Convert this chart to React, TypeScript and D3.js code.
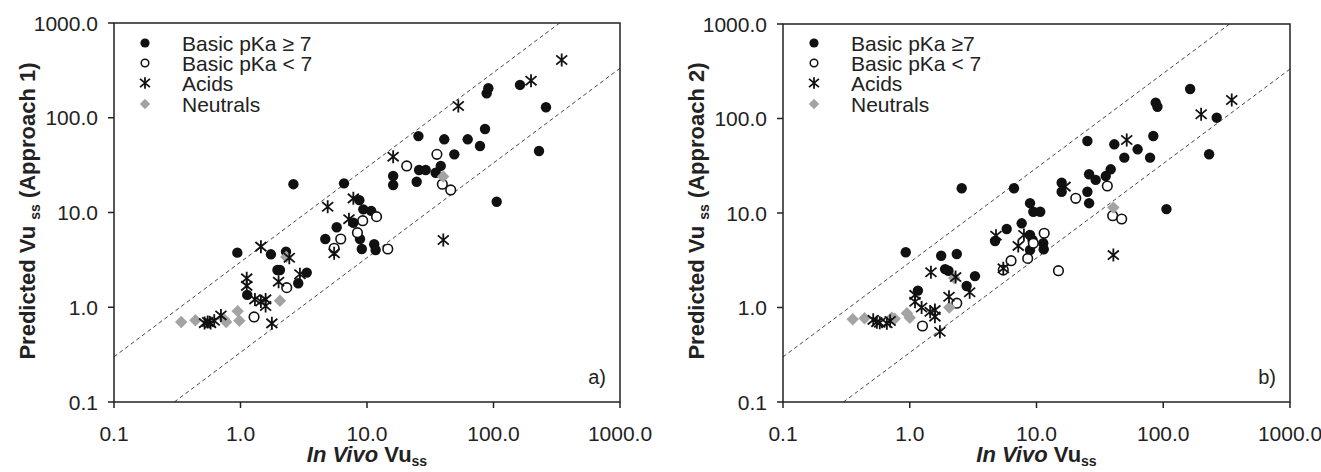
import React from "react";
import * as d3 from "d3";

const tickValues = [0.1, 1, 10, 100, 1000];
const tickLabels = ["0.1", "1.0", "10.0", "100.0", "1000.0"];

const basicHighA: [number, number][] = [
  [2.62, 19.9], [6.58, 20.3], [25.5, 64], [40.8, 59.2], [62.5, 59.2], [78.2, 50.3], [85.7, 76.1],
  [88.3, 181], [91, 205], [162, 222], [260, 129], [229, 44.6], [106, 13], [49, 41.1], [38.3, 31],
  [34.9, 26.3], [25.8, 28.1], [29.1, 28.1], [24.7, 21.1], [16.1, 24.3], [16.1, 19.5], [8.7, 13.5],
  [9.35, 10.8], [10.8, 10.4], [7.8, 7.8], [5.76, 6.98], [4.68, 5.25], [8.8, 5.25], [9.1, 4.12],
  [11.4, 4.62], [11.7, 4.02], [0.944, 3.77], [1.74, 3.62], [2.29, 3.86], [1.96, 2.47], [2.05, 2.47],
  [3.34, 2.32], [2.86, 1.79], [1.13, 1.35],
];
const basicLowA: [number, number][] = [
  [35.7, 41.1], [20.6, 31], [39.4, 19.9], [45.9, 17.3], [11.9, 9.04], [9.25, 8.2], [8.4, 6.12],
  [6.2, 5.25], [5.5, 4.19], [14.6, 4.12], [2.32, 1.61], [1.28, 0.79],
];
const acidsA: [number, number][] = [
  [346, 407], [198, 246], [52.7, 133], [16.1, 38.8], [4.89, 11.5], [7.8, 14.1], [7.2, 8.5], [5.5, 3.71],
  [40.1, 5.13], [1.45, 4.36], [2.43, 3.33], [2.95, 2.23], [2.0, 1.86], [1.12, 2.02], [1.12, 1.68],
  [1.3, 1.21], [1.45, 1.15], [1.58, 1.21], [1.58, 1.03], [1.77, 0.676], [0.52, 0.68], [0.55, 0.7],
  [0.58, 0.68], [0.62, 0.72], [0.7, 0.82],
];
const neutralsA: [number, number][] = [
  [0.34, 0.7], [0.44, 0.73], [0.74, 0.75], [0.77, 0.7], [0.95, 0.91], [0.98, 0.72], [2.05, 1.17],
  [2.3, 3.4], [40, 24],
];

const basicHighB: [number, number][] = [
  [163, 205], [87.2, 147], [90, 133], [264, 102], [230, 41.8], [106, 11], [83.5, 65.3], [78.7, 38.5],
  [62.8, 47.2], [49.3, 38.5], [41.1, 53.3], [25.2, 57.8], [38.5, 29], [35.2, 24.6], [26, 25.7],
  [29.3, 22.4], [25.2, 16.8], [26, 12.7], [15.8, 20.9], [15.8, 16.8], [8.89, 12.7], [9.44, 10.3],
  [10.7, 10.3], [7.64, 7.78], [5.82, 6.77], [4.71, 5.06], [8.89, 5.85], [9.3, 5.18], [8.89, 4.06],
  [11.3, 4.78], [11.4, 4.13], [2.57, 18.3], [6.64, 18.3], [0.93, 3.84], [1.77, 3.53], [2.35, 3.68],
  [1.9, 2.55], [2.02, 2.45], [3.27, 2.15], [2.81, 1.69], [1.16, 1.51],
];
const basicLowB: [number, number][] = [
  [36.2, 19.3], [20.4, 14.3], [39.9, 9.36], [47, 8.64], [11.5, 6.1], [9.44, 4.78], [8.52, 3.31],
  [6.3, 3.13], [5.47, 2.49], [14.9, 2.45], [2.35, 1.11], [1.26, 0.637],
];
const acidsB: [number, number][] = [
  [347, 157], [199, 111], [51.5, 59.2], [16.8, 19], [40.4, 3.59], [4.79, 5.75], [7.18, 4.48],
  [7.96, 5.85], [5.47, 2.6], [1.47, 2.36], [2.3, 2.1], [2.97, 1.45], [2.04, 1.3], [1.1, 1.36],
  [1.1, 1.15], [1.24, 1.0], [1.45, 0.9], [1.58, 0.94], [1.58, 0.8], [1.73, 0.554], [0.515, 0.74],
  [0.55, 0.7], [0.58, 0.69], [0.66, 0.68], [0.7, 0.72],
];
const neutralsB: [number, number][] = [
  [0.355, 0.75], [0.44, 0.77], [0.72, 0.78], [0.76, 0.76], [0.95, 0.87], [1.0, 0.78], [2.05, 1.0],
  [2.24, 2.05], [40.4, 11.4],
];

const legendA = ["Basic pKa \u2265 7", "Basic pKa < 7", "Acids", "Neutrals"];
const legendB = ["Basic pKa \u22657", "Basic pKa < 7", "Acids", "Neutrals"];

const FONT = "'Liberation Sans', Arial, Helvetica, sans-serif";
const GREY = "#a3a3a3";

function Asterisk({ x, y, s = 1 }: { x: number; y: number; s?: number }) {
  const d = `M0,${-6.5 * s}L0,${6.5 * s}M${-5.5 * s},${-4.6 * s}L${5.5 * s},${4.6 * s}M${-5.5 * s},${4.6 * s}L${5.5 * s},${-4.6 * s}`;
  return <path d={d} transform={`translate(${x},${y})`} stroke="#111" strokeWidth={1.8} fill="none" />;
}
function Diamond({ x, y, r = 6.2 }: { x: number; y: number; r?: number }) {
  return <path d={`M0,${-r}L${r},0L0,${r}L${-r},0Z`} transform={`translate(${x},${y})`} fill={GREY} />;
}

type PanelProps = {
  x0: number; x1: number; y0: number; y1: number;
  high: [number, number][]; low: [number, number][]; acids: [number, number][]; neutrals: [number, number][];
  legend: string[]; yTitle: string; tag: string;
};

function Panel({ x0, x1, y0, y1, high, low, acids, neutrals, legend, yTitle, tag }: PanelProps) {
  const xs = d3.scaleLog().domain([0.1, 1000]).range([x0, x1]);
  const ys = d3.scaleLog().domain([0.1, 1000]).range([y1, y0]);
  const upper = d3.line<number>().x((v) => xs(v)).y((v) => ys(3 * v));
  const lower = d3.line<number>().x((v) => xs(v)).y((v) => ys(v / 3));
  const upperPts = [0.1, 1000 / 3];
  const lowerPts = [0.3, 1000];
  const legY = [43, 63, 83, 104];
  const lmx = x0 + 31;
  const ltx = x0 + 68;
  return (
    <g fontFamily={FONT}>
      <path d={upper(upperPts) || ""} stroke="#333" strokeWidth={0.9} strokeDasharray="4,3" fill="none" />
      <path d={lower(lowerPts) || ""} stroke="#333" strokeWidth={0.9} strokeDasharray="4,3" fill="none" />
      {high.map(([a, b], i) => (
        <circle key={"h" + i} cx={xs(a)} cy={ys(b)} r={5.2} fill="#111" />
      ))}
      {low.map(([a, b], i) => (
        <circle key={"l" + i} cx={xs(a)} cy={ys(b)} r={4.8} fill="#fff" stroke="#111" strokeWidth={1.6} />
      ))}
      {neutrals.map(([a, b], i) => (
        <Diamond key={"n" + i} x={xs(a)} y={ys(b)} />
      ))}
      {acids.map(([a, b], i) => (
        <Asterisk key={"a" + i} x={xs(a)} y={ys(b)} />
      ))}
      <rect x={x0} y={y0} width={x1 - x0} height={y1 - y0} fill="none" stroke="#222" strokeWidth={1.5} />
      {tickValues.map((t, i) => (
        <g key={"xt" + i}>
          <line x1={xs(t)} x2={xs(t)} y1={y1} y2={y1 + 6} stroke="#222" strokeWidth={1.5} />
          <text x={xs(t)} y={y1 + 39} fontSize={21} textAnchor="middle" fill="#222">{tickLabels[i]}</text>
          <line x1={x0 - 6} x2={x0} y1={ys(t)} y2={ys(t)} stroke="#222" strokeWidth={1.5} />
          <text x={x0 - 16} y={ys(t) + 7.5} fontSize={21} textAnchor="end" fill="#222">{tickLabels[i]}</text>
        </g>
      ))}
      <text x={(x0 + x1) / 2} y={462} textAnchor="middle" fontSize={22} fontWeight="bold" fill="#222">
        <tspan fontStyle="italic">In Vivo</tspan>
        <tspan> Vu</tspan>
        <tspan fontSize={14} dy={4}>ss</tspan>
      </text>
      <text transform={`translate(${x0 - 79},211) rotate(-90)`} textAnchor="middle" fontSize={22} fontWeight="bold" fill="#222">
        <tspan>Predicted Vu </tspan>
        <tspan fontSize={14} dy={5}>ss</tspan>
        <tspan dy={-5}>{" " + yTitle}</tspan>
      </text>
      <text x={x1 - 14} y={384} textAnchor="end" fontSize={20} fill="#222">{tag}</text>
      <circle cx={lmx} cy={legY[0]} r={4.6} fill="#111" />
      <circle cx={lmx} cy={legY[1]} r={3.8} fill="#fff" stroke="#111" strokeWidth={1.5} />
      <Asterisk x={lmx} y={legY[2]} s={0.9} />
      <Diamond x={lmx} y={legY[3]} r={5.2} />
      {legend.map((t, i) => (
        <text key={"lg" + i} x={ltx} y={legY[i] + 7.5} fontSize={21} fill="#222">{t}</text>
      ))}
    </g>
  );
}

export default function App() {
  return (
    <svg width={1321} height={472} style={{ position: "absolute", left: 0, top: 0, background: "#fff" }}>
      <rect width={1321} height={472} fill="#fff" />
      <Panel x0={114} x1={620} y0={23} y1={402} high={basicHighA} low={basicLowA} acids={acidsA}
        neutrals={neutralsA} legend={legendA} yTitle="(Approach 1)" tag="a)" />
      <Panel x0={783} x1={1290} y0={24} y1={402} high={basicHighB} low={basicLowB} acids={acidsB}
        neutrals={neutralsB} legend={legendB} yTitle="(Approach 2)" tag="b)" />
    </svg>
  );
}
